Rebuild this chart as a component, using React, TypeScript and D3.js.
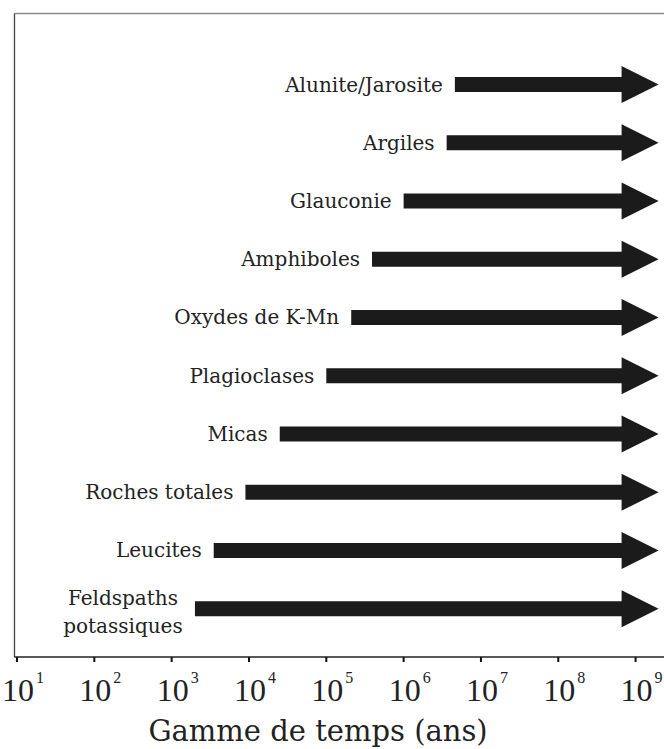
import React from "react";
import * as d3 from "d3";

// ---- data ----
const categories = [
  "Alunite/Jarosite",
  "Argiles",
  "Glauconie",
  "Amphiboles",
  "Oxydes de K-Mn",
  "Plagioclases",
  "Micas",
  "Roches totales",
  "Leucites",
  "Feldspaths\npotassiques",
];
// lower limit of the datable age range (years); arrows extend beyond 10^9
const startYears = [4.6e6, 3.6e6, 1.0e6, 3.9e5, 2.1e5, 1.0e5, 2.5e4, 9.0e3, 3.5e3, 2.0e3];
const tickExponents = [1, 2, 3, 4, 5, 6, 7, 8, 9];
const axisTitle = "Gamme de temps (ans)";

const W = 664;
const H = 749;

export default function App() {
  const x = d3.scaleLog().domain([1e1, 1e9]).range([17, 635.6]);
  const y = d3.scalePoint<string>().domain(categories).range([84.5, 608.7]);

  const axisY = 657;
  const frameLeft = 14.5;
  const frameTop = 13.5;
  const tipX = x(1e9) + 23;
  const headLen = 37;
  const headHalf = 18.5;
  const shaftHalf = 7.5;
  const labelFont = "'DejaVu Serif', serif";
  const tickFont = "'Liberation Serif', serif";

  const arrowPath = (x0: number, cy: number) => {
    const p = d3.path();
    p.moveTo(x0, cy - shaftHalf);
    p.lineTo(tipX - headLen, cy - shaftHalf);
    p.lineTo(tipX - headLen, cy - headHalf);
    p.lineTo(tipX, cy);
    p.lineTo(tipX - headLen, cy + headHalf);
    p.lineTo(tipX - headLen, cy + shaftHalf);
    p.lineTo(x0, cy + shaftHalf);
    p.closePath();
    return p.toString();
  };

  return (
    <svg
      width={W}
      height={H}
      style={{ position: "absolute", left: 0, top: 0, background: "#fff" }}
    >
      {/* frame */}
      <line x1={frameLeft} x2={W} y1={frameTop} y2={frameTop} stroke="#8a8a8a" strokeWidth={1.6} />
      <line x1={frameLeft} x2={frameLeft} y1={frameTop} y2={axisY} stroke="#444" strokeWidth={1.3} />

      {/* arrows + labels */}
      {categories.map((c, i) => {
        const cy = y(c)!;
        const x0 = x(startYears[i]);
        const lines = c.split("\n");
        return (
          <g key={c}>
            <path d={arrowPath(x0, cy)} fill="#1b1b1b" />
            {lines.length === 1 ? (
              <text
                x={x0 - 12}
                y={cy + 7}
                textAnchor="end"
                fontFamily={labelFont}
                fontSize={20}
                fill="#222"
              >
                {c}
              </text>
            ) : (
              <text
                x={x0 - 72}
                y={cy - 4}
                textAnchor="middle"
                fontFamily={labelFont}
                fontSize={20}
                fill="#222"
              >
                {lines.map((l, k) => (
                  <tspan key={k} x={x0 - 72} dy={k === 0 ? 0 : 28}>
                    {l}
                  </tspan>
                ))}
              </text>
            )}
          </g>
        );
      })}

      {/* x axis */}
      <line x1={frameLeft} x2={W} y1={axisY} y2={axisY} stroke="#222" strokeWidth={1.5} />
      {tickExponents.map((e) => {
        const tx = x(Math.pow(10, e));
        return (
          <g key={e}>
            <line x1={tx} x2={tx} y1={axisY} y2={axisY + 5} stroke="#111" strokeWidth={2} />
            <text
              x={tx + 1}
              y={701}
              textAnchor="middle"
              fontFamily={tickFont}
              fontSize={32}
              fill="#222"
            >
              10
            </text>
            <text x={tx + 19} y={683} fontFamily={tickFont} fontSize={16} fill="#222">
              {e}
            </text>
          </g>
        );
      })}
      <text
        x={318}
        y={741}
        textAnchor="middle"
        fontFamily={labelFont}
        fontSize={29}
        fill="#222"
      >
        {axisTitle}
      </text>
    </svg>
  );
}
